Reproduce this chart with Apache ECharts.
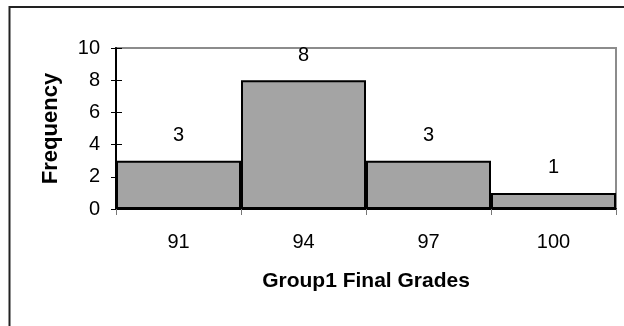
<!DOCTYPE html>
<html>
<head>
<meta charset="utf-8">
<script src="https://cdn.jsdelivr.net/npm/echarts@6/dist/echarts.min.js"></script>
<style>
  html, body { margin: 0; padding: 0; background: #fff; }
  #chart { width: 624px; height: 326px; }
</style>
</head>
<body>
<div id="chart"></div>
<script>
// Grade bins and how many students fell in each
const grades = ['91', '94', '97', '100'];
const frequency = [3, 8, 3, 1];
const yTicks = [0, 2, 4, 6, 8, 10];

const font = '"Liberation Sans", Arial, sans-serif';
const chart = echarts.init(document.getElementById('chart'), null, { renderer: 'canvas' });

chart.setOption({
  animation: false,
  backgroundColor: '#ffffff',
  textStyle: { fontFamily: font },
  graphic: [{
    type: 'polyline',
    shape: { points: [[9.5, 330], [9.5, 7], [630, 7]] },
    style: { stroke: '#222', lineWidth: 2, fill: null }
  }],
  grid: {
    left: 116, right: 8, top: 48, bottom: 117,
    show: true, borderColor: '#8c8c8c', borderWidth: 2, backgroundColor: 'transparent'
  },
  xAxis: {
    type: 'category',
    data: grades,
    boundaryGap: true,
    name: 'Group1 Final Grades',
    nameLocation: 'middle',
    nameGap: 62,
    nameTextStyle: { fontSize: 21, fontWeight: 'bold', color: '#000', fontFamily: font },
    axisLine: { lineStyle: { color: '#000', width: 2 } },
    axisTick: { show: true, length: 6, lineStyle: { color: '#777', width: 1 } },
    axisLabel: { margin: 23, fontSize: 20, color: '#000', fontFamily: font }
  },
  yAxis: [{
    type: 'value',
    min: yTicks[0], max: yTicks[yTicks.length - 1], interval: 2,
    name: 'Frequency',
    nameLocation: 'middle',
    nameGap: 54,
    nameTextStyle: { fontSize: 22, fontWeight: 'bold', color: '#000', fontFamily: font },
    axisLine: { show: true, lineStyle: { color: '#000', width: 2 } },
    axisTick: { show: true, length: 5, lineStyle: { color: '#000', width: 1 } },
    axisLabel: { margin: 16, fontSize: 20, color: '#000', fontFamily: font },
    splitLine: { show: false }
  }, {
    type: 'value',
    position: 'left',
    min: yTicks[0], max: yTicks[yTicks.length - 1], interval: 2,
    axisLine: { show: false },
    axisTick: { show: true, inside: true, length: 6, lineStyle: { color: '#000', width: 1 } },
    axisLabel: { show: false },
    splitLine: { show: false }
  }],
  series: [{
    type: 'bar',
    data: frequency,
    barCategoryGap: '0%',
    itemStyle: { color: '#a4a4a4', borderColor: '#000', borderWidth: 2 },
    label: {
      show: true, position: 'top', distance: 15,
      fontSize: 20, color: '#000', fontFamily: font
    }
  }]
});
</script>
</body>
</html>
